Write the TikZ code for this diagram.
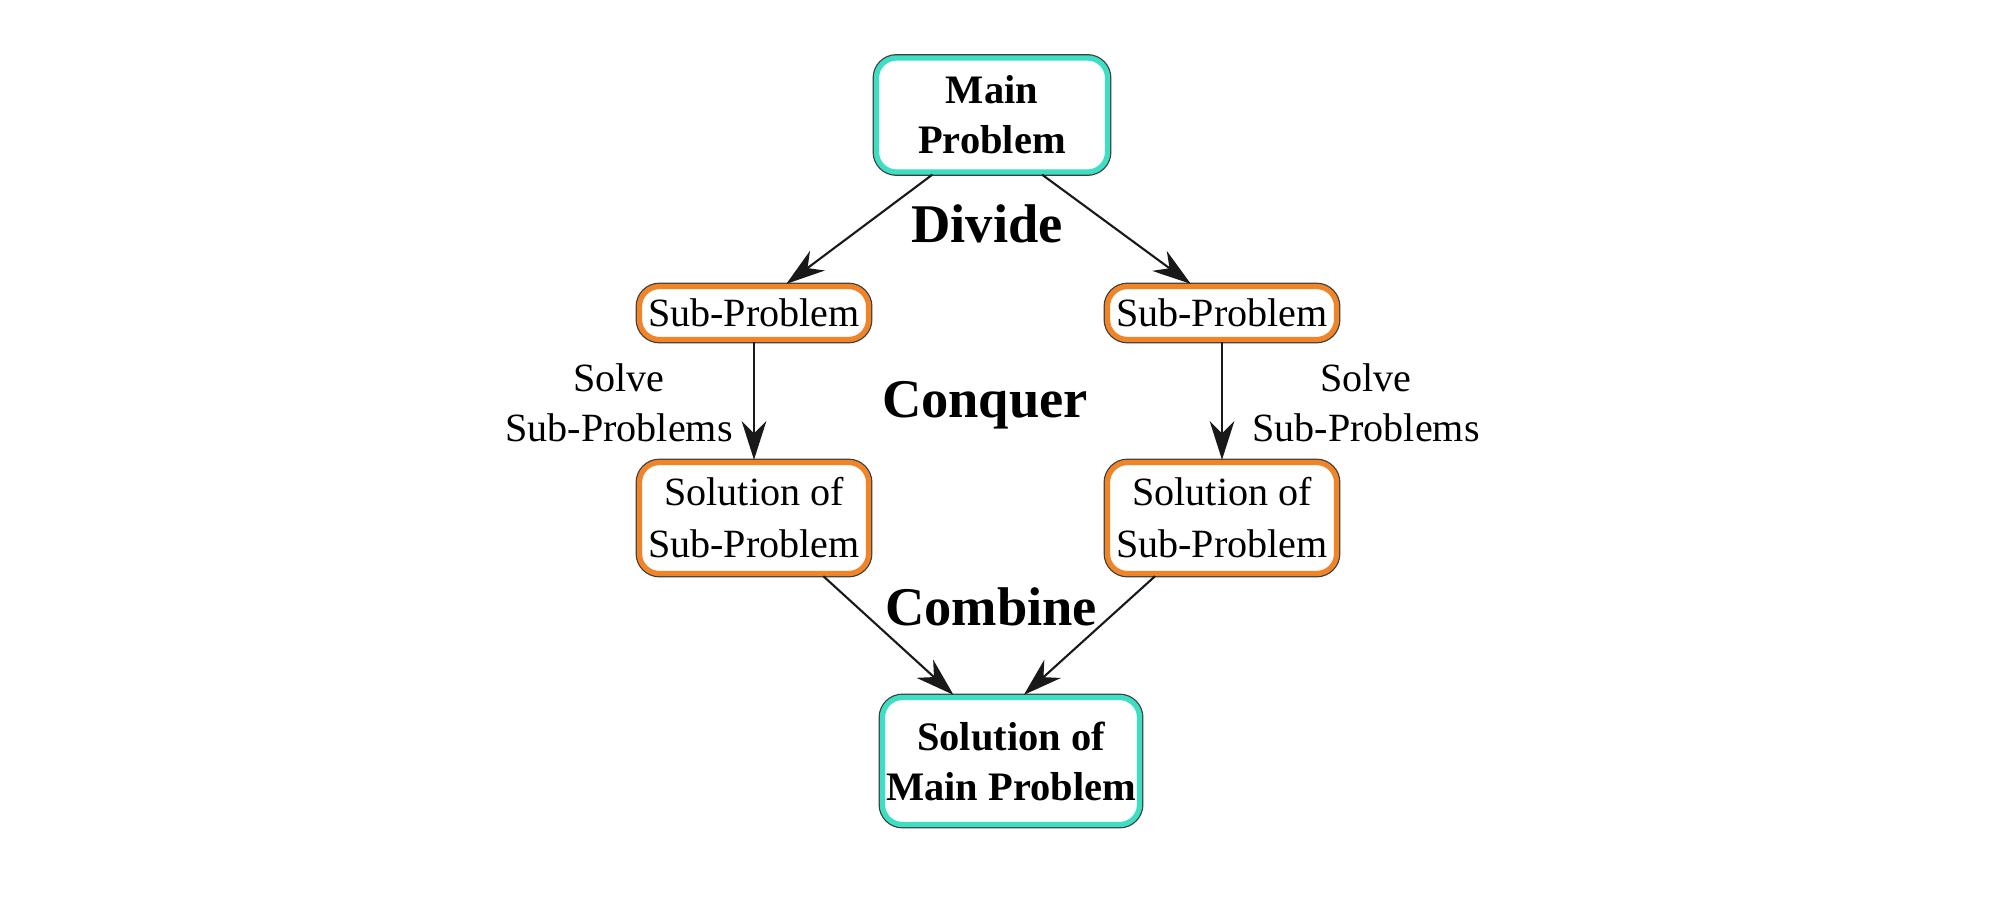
\documentclass[tikz,border=0pt]{standalone}
\usepackage{fontspec}
\setmainfont{Liberation Serif}
\usetikzlibrary{arrows.meta}
\definecolor{tealb}{RGB}{60,222,196}
\definecolor{orangeb}{RGB}{240,132,40}
\definecolor{edge}{RGB}{60,60,60}
\tikzset{
  boxbase/.style={rectangle, rounded corners=0.2cm, fill=white, inner sep=0pt, align=center,
    preaction={draw=edge, line width=2.2pt}, line width=1.5pt},
  mainbox/.style={boxbase, draw=tealb, font=\fontsize{11.5}{14.2}\selectfont\bfseries},
  subbox/.style={boxbase, draw=orangeb, font=\fontsize{11.4}{14.8}\selectfont},
  phase/.style={font=\fontsize{15.5}{18}\selectfont\bfseries},
  note/.style={align=center, font=\fontsize{11.4}{14.2}\selectfont},
  arr/.style={draw=black!90, line width=0.6pt, -{Stealth[length=11pt,width=7pt,inset=3.5pt]}}
}
\begin{document}
\begin{tikzpicture}[x=0.01cm,y=-0.01cm]
\useasboundingbox (0,0) rectangle (2000,897);
\node[mainbox, minimum width=2.31cm, minimum height=1.14cm] (main) at (992,115) {Main\\Problem};
\node[subbox, minimum width=2.29cm, minimum height=0.53cm] (subL) at (754,313) {Sub-Problem};
\node[subbox, minimum width=2.29cm, minimum height=0.53cm] (subR) at (1222,313) {Sub-Problem};
\node[subbox, minimum width=2.29cm, minimum height=1.11cm] (solL) at (754,518) {Solution of\\Sub-Problem};
\node[subbox, minimum width=2.29cm, minimum height=1.11cm] (solR) at (1222,518) {Solution of\\Sub-Problem};
\node[mainbox, minimum width=2.57cm, minimum height=1.27cm] (bot) at (1011,761) {Solution of\\Main Problem};
\node[phase] (divide) at (987,224) {Divide};
\node[phase] (conquer) at (985,405) {Conquer};
\node[phase] (combine) at (991,607) {Combine};
\node[note] (solveL) at (619,403) {Solve\\Sub-Problems};
\node[note] (solveR) at (1366,403) {Solve\\Sub-Problems};
\draw[arr] (main.225) -- (subL.42);
\draw[arr] (main.310) -- (subR.137);
\draw[arr] (subL.south) -- (solL.north);
\draw[arr] (subR.south) -- (solR.north);
\draw[arr] (solL.-40) -- (bot.131);
\draw[arr] (solR.221) -- (bot.79);
\end{tikzpicture}
\end{document}
